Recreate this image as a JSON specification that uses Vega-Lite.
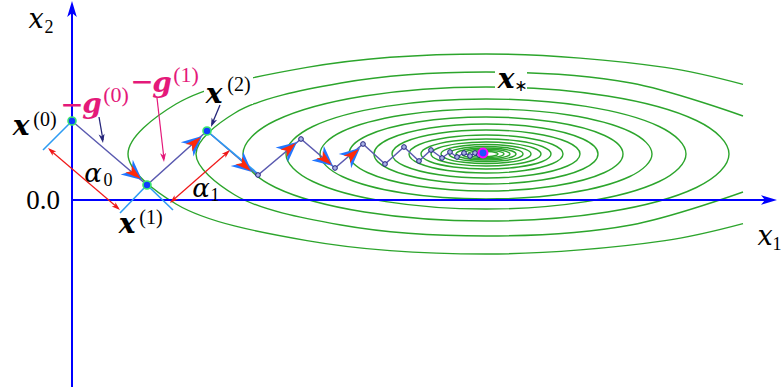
{
"$schema": "https://vega.github.io/schema/vega-lite/v6.json",
"width": 783, "height": 391,
"autosize": {"type": "fit", "contains": "padding"},
"padding": 0,
"background": "white",
"config": {"view": {"stroke": null}},
"datasets": {
"open": [
{"e":1,"i":0,"x":671,"y":115.6},{"e":1,"i":1,"x":593,"y":132.6},{"e":1,"i":2,"x":414,"y":146},{"e":1,"i":3,"x":235,"y":132.6},{"e":1,"i":4,"x":104,"y":96},{"e":1,"i":5,"x":56,"y":46},{"e":1,"i":6,"x":104,"y":-4},{"e":1,"i":7,"x":235,"y":-40.6},{"e":1,"i":8,"x":414,"y":-54},{"e":1,"i":9,"x":593,"y":-40.6},{"e":1,"i":10,"x":671,"y":-23.6},
{"e":2,"i":0,"x":671,"y":84},{"e":2,"i":1,"x":559,"y":117},{"e":2,"i":2,"x":414,"y":128},{"e":2,"i":3,"x":269,"y":117},{"e":2,"i":4,"x":162.9,"y":87},{"e":2,"i":5,"x":124,"y":46},{"e":2,"i":6,"x":162.9,"y":5},{"e":2,"i":7,"x":269,"y":-25},{"e":2,"i":8,"x":414,"y":-36},{"e":2,"i":9,"x":559,"y":-25},{"e":2,"i":10,"x":671,"y":8}
],
"closed": [
{"e":3,"i":0,"x":657,"y":46},{"e":3,"i":1,"x":624.4,"y":79.5},{"e":3,"i":2,"x":535.5,"y":104},{"e":3,"i":3,"x":414,"y":113},{"e":3,"i":4,"x":292.5,"y":104},{"e":3,"i":5,"x":203.6,"y":79.5},{"e":3,"i":6,"x":171,"y":46},{"e":3,"i":7,"x":203.6,"y":12.5},{"e":3,"i":8,"x":292.5,"y":-12},{"e":3,"i":9,"x":414,"y":-21},{"e":3,"i":10,"x":535.5,"y":-12},{"e":3,"i":11,"x":624.4,"y":12.5},
{"e":4,"i":0,"x":614,"y":46},{"e":4,"i":1,"x":587.2,"y":73.5},{"e":4,"i":2,"x":514,"y":93.6},{"e":4,"i":3,"x":414,"y":101},{"e":4,"i":4,"x":314,"y":93.6},{"e":4,"i":5,"x":240.8,"y":73.5},{"e":4,"i":6,"x":214,"y":46},{"e":4,"i":7,"x":240.8,"y":18.5},{"e":4,"i":8,"x":314,"y":-1.6},{"e":4,"i":9,"x":414,"y":-9},{"e":4,"i":10,"x":514,"y":-1.6},{"e":4,"i":11,"x":587.2,"y":18.5},
{"e":5,"i":0,"x":580,"y":46},{"e":5,"i":1,"x":557.8,"y":68.5},{"e":5,"i":2,"x":497,"y":85},{"e":5,"i":3,"x":414,"y":91},{"e":5,"i":4,"x":331,"y":85},{"e":5,"i":5,"x":270.2,"y":68.5},{"e":5,"i":6,"x":248,"y":46},{"e":5,"i":7,"x":270.2,"y":23.5},{"e":5,"i":8,"x":331,"y":7},{"e":5,"i":9,"x":414,"y":1},{"e":5,"i":10,"x":497,"y":7},{"e":5,"i":11,"x":557.8,"y":23.5},
{"e":6,"i":0,"x":551,"y":46},{"e":6,"i":1,"x":532.6,"y":64.5},{"e":6,"i":2,"x":482.5,"y":78},{"e":6,"i":3,"x":414,"y":83},{"e":6,"i":4,"x":345.5,"y":78},{"e":6,"i":5,"x":295.4,"y":64.5},{"e":6,"i":6,"x":277,"y":46},{"e":6,"i":7,"x":295.4,"y":27.5},{"e":6,"i":8,"x":345.5,"y":14},{"e":6,"i":9,"x":414,"y":9},{"e":6,"i":10,"x":482.5,"y":14},{"e":6,"i":11,"x":532.6,"y":27.5},
{"e":7,"i":0,"x":526,"y":46},{"e":7,"i":1,"x":511,"y":61},{"e":7,"i":2,"x":470,"y":72},{"e":7,"i":3,"x":414,"y":76},{"e":7,"i":4,"x":358,"y":72},{"e":7,"i":5,"x":317,"y":61},{"e":7,"i":6,"x":302,"y":46},{"e":7,"i":7,"x":317,"y":31},{"e":7,"i":8,"x":358,"y":20},{"e":7,"i":9,"x":414,"y":16},{"e":7,"i":10,"x":470,"y":20},{"e":7,"i":11,"x":511,"y":31},
{"e":8,"i":0,"x":508,"y":46},{"e":8,"i":1,"x":495.4,"y":58},{"e":8,"i":2,"x":461,"y":66.8},{"e":8,"i":3,"x":414,"y":70},{"e":8,"i":4,"x":367,"y":66.8},{"e":8,"i":5,"x":332.6,"y":58},{"e":8,"i":6,"x":320,"y":46},{"e":8,"i":7,"x":332.6,"y":34},{"e":8,"i":8,"x":367,"y":25.2},{"e":8,"i":9,"x":414,"y":22},{"e":8,"i":10,"x":461,"y":25.2},{"e":8,"i":11,"x":495.4,"y":34},
{"e":9,"i":0,"x":491,"y":46},{"e":9,"i":1,"x":480.7,"y":55.5},{"e":9,"i":2,"x":452.5,"y":62.5},{"e":9,"i":3,"x":414,"y":65},{"e":9,"i":4,"x":375.5,"y":62.5},{"e":9,"i":5,"x":347.3,"y":55.5},{"e":9,"i":6,"x":337,"y":46},{"e":9,"i":7,"x":347.3,"y":36.5},{"e":9,"i":8,"x":375.5,"y":29.5},{"e":9,"i":9,"x":414,"y":27},{"e":9,"i":10,"x":452.5,"y":29.5},{"e":9,"i":11,"x":480.7,"y":36.5},
{"e":10,"i":0,"x":479,"y":46},{"e":10,"i":1,"x":470.3,"y":53.5},{"e":10,"i":2,"x":446.5,"y":59},{"e":10,"i":3,"x":414,"y":61},{"e":10,"i":4,"x":381.5,"y":59},{"e":10,"i":5,"x":357.7,"y":53.5},{"e":10,"i":6,"x":349,"y":46},{"e":10,"i":7,"x":357.7,"y":38.5},{"e":10,"i":8,"x":381.5,"y":33},{"e":10,"i":9,"x":414,"y":31},{"e":10,"i":10,"x":446.5,"y":33},{"e":10,"i":11,"x":470.3,"y":38.5},
{"e":11,"i":0,"x":469,"y":46},{"e":11,"i":1,"x":461.6,"y":52},{"e":11,"i":2,"x":441.5,"y":56.4},{"e":11,"i":3,"x":414,"y":58},{"e":11,"i":4,"x":386.5,"y":56.4},{"e":11,"i":5,"x":366.4,"y":52},{"e":11,"i":6,"x":359,"y":46},{"e":11,"i":7,"x":366.4,"y":40},{"e":11,"i":8,"x":386.5,"y":35.6},{"e":11,"i":9,"x":414,"y":34},{"e":11,"i":10,"x":441.5,"y":35.6},{"e":11,"i":11,"x":461.6,"y":40},
{"e":12,"i":0,"x":459,"y":46},{"e":12,"i":1,"x":453,"y":50.8},{"e":12,"i":2,"x":436.5,"y":54.2},{"e":12,"i":3,"x":414,"y":55.5},{"e":12,"i":4,"x":391.5,"y":54.2},{"e":12,"i":5,"x":375,"y":50.8},{"e":12,"i":6,"x":369,"y":46},{"e":12,"i":7,"x":375,"y":41.2},{"e":12,"i":8,"x":391.5,"y":37.8},{"e":12,"i":9,"x":414,"y":36.5},{"e":12,"i":10,"x":436.5,"y":37.8},{"e":12,"i":11,"x":453,"y":41.2},
{"e":13,"i":0,"x":451,"y":46},{"e":13,"i":1,"x":446,"y":49.8},{"e":13,"i":2,"x":432.5,"y":52.5},{"e":13,"i":3,"x":414,"y":53.5},{"e":13,"i":4,"x":395.5,"y":52.5},{"e":13,"i":5,"x":382,"y":49.8},{"e":13,"i":6,"x":377,"y":46},{"e":13,"i":7,"x":382,"y":42.2},{"e":13,"i":8,"x":395.5,"y":39.5},{"e":13,"i":9,"x":414,"y":38.5},{"e":13,"i":10,"x":432.5,"y":39.5},{"e":13,"i":11,"x":446,"y":42.2},
{"e":14,"i":0,"x":444,"y":46},{"e":14,"i":1,"x":440,"y":49},{"e":14,"i":2,"x":429,"y":51.2},{"e":14,"i":3,"x":414,"y":52},{"e":14,"i":4,"x":399,"y":51.2},{"e":14,"i":5,"x":388,"y":49},{"e":14,"i":6,"x":384,"y":46},{"e":14,"i":7,"x":388,"y":43},{"e":14,"i":8,"x":399,"y":40.8},{"e":14,"i":9,"x":414,"y":40},{"e":14,"i":10,"x":429,"y":40.8},{"e":14,"i":11,"x":440,"y":43},
{"e":15,"i":0,"x":438,"y":46},{"e":15,"i":1,"x":434.8,"y":48.4},{"e":15,"i":2,"x":426,"y":50.2},{"e":15,"i":3,"x":414,"y":50.8},{"e":15,"i":4,"x":402,"y":50.2},{"e":15,"i":5,"x":393.2,"y":48.4},{"e":15,"i":6,"x":390,"y":46},{"e":15,"i":7,"x":393.2,"y":43.6},{"e":15,"i":8,"x":402,"y":41.8},{"e":15,"i":9,"x":414,"y":41.2},{"e":15,"i":10,"x":426,"y":41.8},{"e":15,"i":11,"x":434.8,"y":43.6},
{"e":16,"i":0,"x":432,"y":46},{"e":16,"i":1,"x":429.6,"y":47.8},{"e":16,"i":2,"x":423,"y":49.1},{"e":16,"i":3,"x":414,"y":49.6},{"e":16,"i":4,"x":405,"y":49.1},{"e":16,"i":5,"x":398.4,"y":47.8},{"e":16,"i":6,"x":396,"y":46},{"e":16,"i":7,"x":398.4,"y":44.2},{"e":16,"i":8,"x":405,"y":42.9},{"e":16,"i":9,"x":414,"y":42.4},{"e":16,"i":10,"x":423,"y":42.9},{"e":16,"i":11,"x":429.6,"y":44.2},
{"e":17,"i":0,"x":426,"y":46},{"e":17,"i":1,"x":424.4,"y":47.25},{"e":17,"i":2,"x":420,"y":48.2},{"e":17,"i":3,"x":414,"y":48.5},{"e":17,"i":4,"x":408,"y":48.2},{"e":17,"i":5,"x":403.6,"y":47.25},{"e":17,"i":6,"x":402,"y":46},{"e":17,"i":7,"x":403.6,"y":44.75},{"e":17,"i":8,"x":408,"y":43.8},{"e":17,"i":9,"x":414,"y":43.5},{"e":17,"i":10,"x":420,"y":43.8},{"e":17,"i":11,"x":424.4,"y":44.75}
],
"boxes": [{"x":132,"y":96,"x2":181,"y2":124},{"x":423,"y":107,"x2":455,"y2":130}],
"axes": [{"x":0,"y":-187,"x2":0,"y2":190},{"x":0,"y":0,"x2":700,"y2":0}],
"cyan": [{"x":-29,"y":50,"x2":0,"y2":79},{"x":48,"y":-13,"x2":75,"y2":15},{"x":75,"y":15,"x2":101,"y2":-10},{"x":135,"y":69,"x2":185,"y2":27}],
"red": [{"x":-22,"y":50,"x2":46,"y2":-8},{"x":100,"y":-1,"x2":156,"y2":48}],
"navy": [{"x":27,"y":83,"x2":31,"y2":60},{"x":148,"y":95,"x2":140,"y2":76}],
"mag": [{"x":85,"y":102,"x2":92,"y2":41}],
"path": [
{"i":0,"x":0,"y":79},{"i":1,"x":75,"y":15},{"i":2,"x":135,"y":69},{"i":3,"x":186,"y":25},{"i":4,"x":229,"y":61},{"i":5,"x":263,"y":32},{"i":6,"x":291,"y":56},{"i":7,"x":313,"y":36},{"i":8,"x":332,"y":53},{"i":9,"x":347,"y":39},{"i":10,"x":359,"y":50},{"i":11,"x":370,"y":42},{"i":12,"x":378,"y":48},{"i":13,"x":385,"y":43},{"i":14,"x":392,"y":47},{"i":15,"x":398,"y":44},{"i":16,"x":403,"y":47},{"i":17,"x":407,"y":45},{"i":18,"x":411,"y":47}
],
"heads": [{"x":70,"y":20,"a":130},{"x":130,"y":64,"a":48},{"x":180,"y":28,"a":131},{"x":225,"y":58,"a":50},{"x":261,"y":34,"a":130},{"x":288,"y":52,"a":49}],
"redheads": [{"x":-24,"y":52,"a":311},{"x":48,"y":-10,"a":131},{"x":158,"y":50,"a":48},{"x":98,"y":-3,"a":228}],
"navyheads": [{"x":31,"y":57,"a":171},{"x":139,"y":73,"a":202}],
"magheads": [{"x":92,"y":38,"a":174}],
"axisheads": [{"x":0,"y":199,"a":0},{"x":705,"y":0,"a":90}],
"big": [{"x":0,"y":79},{"x":75,"y":15},{"x":135,"y":69}],
"small": [{"x":186,"y":25},{"x":229,"y":61},{"x":263,"y":32},{"x":291,"y":56},{"x":313,"y":36},{"x":332,"y":53},{"x":347,"y":39},{"x":359,"y":50},{"x":370,"y":42},{"x":378,"y":48},{"x":385,"y":43},{"x":392,"y":47},{"x":398,"y":44},{"x":403,"y":47},{"x":407,"y":45}],
"star": [{"x":411,"y":47}],
"tItalic": [{"x":-36,"y":172,"t":"x"},{"x":693,"y":-45,"t":"x"}],
"tSub": [{"x":-23,"y":167,"t":"2"},{"x":705,"y":-50,"t":"1"},{"x":36,"y":14,"t":"0"},{"x":143,"y":-1,"t":"1"}],
"tZero": [{"x":-29,"y":-9,"t":"0.0"}],
"tBold": [{"x":-51,"y":65,"t":"x"},{"x":55,"y":-33,"t":"x"},{"x":142,"y":97,"t":"x"},{"x":434,"y":112,"t":"x"}],
"tSup": [{"x":-27,"y":74,"t":"(0)"},{"x":79,"y":-24,"t":"(1)"},{"x":167,"y":109,"t":"(2)"}],
"tStar": [{"x":449,"y":109,"t":"∗"}],
"tAlpha": [{"x":21,"y":18,"t":"α"},{"x":129,"y":3,"t":"α"}],
"tMinus": [{"x":0,"y":86,"t":"−"},{"x":70,"y":109,"t":"−"}],
"tG": [{"x":20,"y":87,"t":"g"},{"x":90,"y":108,"t":"g"}],
"tGsup": [{"x":44,"y":98,"t":"(0)"},{"x":114,"y":118,"t":"(1)"}]
},
"encoding": {
"x": {"field": "x", "type": "quantitative", "scale": {"domain": [-72, 711], "nice": false, "zero": false}, "axis": null},
"y": {"field": "y", "type": "quantitative", "scale": {"domain": [-191, 200], "nice": false, "zero": false}, "axis": null}
},
"layer": [
{"data": {"name": "open"}, "mark": {"type": "line", "interpolate": "catmull-rom", "stroke": "#2ca52c", "strokeWidth": 1.4},
 "encoding": {"detail": {"field": "e"}, "order": {"field": "i", "type": "quantitative"}}},
{"data": {"name": "closed"}, "mark": {"type": "line", "interpolate": "cardinal-closed", "stroke": "#2ca52c", "strokeWidth": 1.4},
 "encoding": {"detail": {"field": "e"}, "order": {"field": "i", "type": "quantitative"}}},
{"data": {"name": "boxes"}, "mark": {"type": "rect", "fill": "white"},
 "encoding": {"x2": {"field": "x2"}, "y2": {"field": "y2"}}},
{"data": {"name": "axes"}, "mark": {"type": "rule", "stroke": "#0000ff", "strokeWidth": 2},
 "encoding": {"x2": {"field": "x2"}, "y2": {"field": "y2"}}},
{"data": {"name": "path"}, "mark": {"type": "line", "stroke": "#5a5ab0", "strokeWidth": 1.4},
 "encoding": {"order": {"field": "i", "type": "quantitative"}}},
{"data": {"name": "cyan"}, "mark": {"type": "rule", "stroke": "#2e9cf2", "strokeWidth": 1.6},
 "encoding": {"x2": {"field": "x2"}, "y2": {"field": "y2"}}},
{"data": {"name": "red"}, "mark": {"type": "rule", "stroke": "#f01818", "strokeWidth": 1.2},
 "encoding": {"x2": {"field": "x2"}, "y2": {"field": "y2"}}},
{"data": {"name": "navy"}, "mark": {"type": "rule", "stroke": "#25257a", "strokeWidth": 1.3},
 "encoding": {"x2": {"field": "x2"}, "y2": {"field": "y2"}}},
{"data": {"name": "mag"}, "mark": {"type": "rule", "stroke": "#e4197a", "strokeWidth": 1.2},
 "encoding": {"x2": {"field": "x2"}, "y2": {"field": "y2"}}},
{"data": {"name": "heads"}, "mark": {"type": "point", "shape": "M0,0L0.95,2L0,1.35L-0.95,2Z", "filled": true, "fill": "#2176ff", "stroke": null, "opacity": 1, "size": 400},
 "encoding": {"angle": {"field": "a", "type": "quantitative", "scale": null}}},
{"data": {"name": "heads"}, "mark": {"type": "point", "shape": "M0,0.15L0.5,1.75L0,1.35L-0.5,1.75Z", "filled": true, "fill": "#ff2a0a", "stroke": null, "opacity": 1, "size": 400},
 "encoding": {"angle": {"field": "a", "type": "quantitative", "scale": null}}},
{"data": {"name": "redheads"}, "mark": {"type": "point", "shape": "M0,0L0.55,1.7L0,1.3L-0.55,1.7Z", "filled": true, "fill": "#f01818", "stroke": null, "opacity": 1, "size": 100},
 "encoding": {"angle": {"field": "a", "type": "quantitative", "scale": null}}},
{"data": {"name": "navyheads"}, "mark": {"type": "point", "shape": "M0,0L0.6,1.8L0,1.3L-0.6,1.8Z", "filled": true, "fill": "#25257a", "stroke": null, "opacity": 1, "size": 100},
 "encoding": {"angle": {"field": "a", "type": "quantitative", "scale": null}}},
{"data": {"name": "magheads"}, "mark": {"type": "point", "shape": "M0,0L0.6,1.8L0,1.3L-0.6,1.8Z", "filled": true, "fill": "#e4197a", "stroke": null, "opacity": 1, "size": 100},
 "encoding": {"angle": {"field": "a", "type": "quantitative", "scale": null}}},
{"data": {"name": "axisheads"}, "mark": {"type": "point", "shape": "M0,0L0.6,2L0,1.5L-0.6,2Z", "filled": true, "fill": "#0000ff", "stroke": null, "opacity": 1, "size": 256},
 "encoding": {"angle": {"field": "a", "type": "quantitative", "scale": null}}},
{"data": {"name": "small"}, "mark": {"type": "point", "shape": "circle", "filled": true, "fill": "#a9b2e6", "stroke": "#20207e", "strokeWidth": 1, "opacity": 1, "size": 22}},
{"data": {"name": "big"}, "mark": {"type": "point", "shape": "circle", "filled": true, "fill": "#0f3cff", "stroke": "#3be870", "strokeWidth": 1.6, "opacity": 1, "size": 64}},
{"data": {"name": "star"}, "mark": {"type": "point", "shape": "circle", "filled": true, "fill": "#2050ff", "stroke": "#ff00ff", "strokeWidth": 2, "opacity": 1, "size": 80}},
{"data": {"name": "tItalic"}, "mark": {"type": "text", "font": "DejaVu Serif", "fontStyle": "italic", "fontSize": 27, "color": "black", "align": "center", "baseline": "alphabetic"},
 "encoding": {"text": {"field": "t"}}},
{"data": {"name": "tSub"}, "mark": {"type": "text", "font": "Liberation Serif", "fontSize": 18, "color": "black", "align": "center", "baseline": "alphabetic"},
 "encoding": {"text": {"field": "t"}}},
{"data": {"name": "tZero"}, "mark": {"type": "text", "font": "Liberation Serif", "fontSize": 27, "color": "black", "align": "center", "baseline": "alphabetic"},
 "encoding": {"text": {"field": "t"}}},
{"data": {"name": "tBold"}, "mark": {"type": "text", "font": "DejaVu Serif", "fontStyle": "italic", "fontWeight": "bold", "fontSize": 28, "color": "black", "align": "center", "baseline": "alphabetic"},
 "encoding": {"text": {"field": "t"}}},
{"data": {"name": "tSup"}, "mark": {"type": "text", "font": "Liberation Serif", "fontSize": 20, "color": "black", "align": "center", "baseline": "alphabetic"},
 "encoding": {"text": {"field": "t"}}},
{"data": {"name": "tStar"}, "mark": {"type": "text", "font": "DejaVu Sans", "fontSize": 16, "color": "black", "align": "center", "baseline": "alphabetic"},
 "encoding": {"text": {"field": "t"}}},
{"data": {"name": "tAlpha"}, "mark": {"type": "text", "font": "DejaVu Serif", "fontStyle": "italic", "fontSize": 26, "color": "black", "align": "center", "baseline": "alphabetic"},
 "encoding": {"text": {"field": "t"}}},
{"data": {"name": "tMinus"}, "mark": {"type": "text", "font": "DejaVu Sans", "fontSize": 28, "color": "#e4197a", "align": "center", "baseline": "alphabetic"},
 "encoding": {"text": {"field": "t"}}},
{"data": {"name": "tG"}, "mark": {"type": "text", "font": "DejaVu Serif", "fontStyle": "italic", "fontWeight": "bold", "fontSize": 28, "color": "#e4197a", "align": "center", "baseline": "alphabetic"},
 "encoding": {"text": {"field": "t"}}},
{"data": {"name": "tGsup"}, "mark": {"type": "text", "font": "Liberation Serif", "fontSize": 22, "color": "#e4197a", "align": "center", "baseline": "alphabetic"},
 "encoding": {"text": {"field": "t"}}}
]
}
